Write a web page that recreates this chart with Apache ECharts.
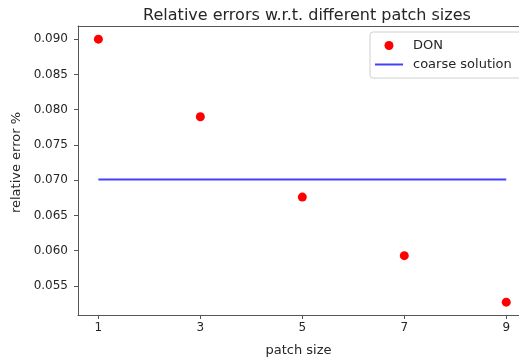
<!DOCTYPE html>
<html>
<head>
<meta charset="utf-8">
<script src="https://cdn.jsdelivr.net/npm/echarts@6/dist/echarts.min.js"></script>
<style>
  html, body { margin: 0; padding: 0; background: #fff; }
  #chart { width: 519px; height: 362px; }
</style>
</head>
<body>
<div id="chart"></div>
<script>
// data
var patchSizes = [1, 3, 5, 7, 9];
var donErrors = [0.0900, 0.0790, 0.0676, 0.0593, 0.0527];
var coarseError = 0.0701;
var xTicks = [1, 3, 5, 7, 9];
var yTicks = [0.055, 0.060, 0.065, 0.070, 0.075, 0.080, 0.085, 0.090];

var axisColor = '#555';
var textColor = '#262626';
var font = 'DejaVu Sans';

var chart = echarts.init(document.getElementById('chart'));

var donData = patchSizes.map(function (x, i) { return [x, donErrors[i]]; });
var coarseData = [[patchSizes[0], coarseError], [patchSizes[patchSizes.length - 1], coarseError]];

chart.setOption({
  animation: false,
  textStyle: { fontFamily: font },
  title: {
    text: 'Relative errors w.r.t. different patch sizes',
    left: 302,
    textAlign: 'center',
    top: 3,
    textStyle: { fontSize: 16, fontWeight: 'normal', color: textColor, fontFamily: font }
  },
  legend: {
    orient: 'vertical',
    left: 370,
    top: 32,
    padding: [7, 14, 7, 4],
    itemGap: 6,
    itemWidth: 28,
    itemHeight: 9,
    backgroundColor: '#fff',
    borderColor: '#d0d0d0',
    borderWidth: 1,
    borderRadius: 3,
    textStyle: { fontSize: 13, color: textColor, fontFamily: font, padding: [0, 0, 0, 5] },
    data: [
      { name: 'DON' },
      { name: 'coarse solution', itemStyle: { opacity: 0 } }
    ]
  },
  grid: { left: 78, right: 0, top: 26, bottom: 44.5 },
  xAxis: [{
    type: 'value',
    min: 0.6,
    max: 9.25,
    name: 'patch size',
    nameLocation: 'middle',
    nameGap: 29,
    nameTextStyle: { fontSize: 13, color: textColor },
    axisLine: { show: true, onZero: false, lineStyle: { color: axisColor, width: 1 } },
    axisTick: { show: true, length: 4, customValues: xTicks, lineStyle: { color: axisColor } },
    axisLabel: { customValues: xTicks, fontSize: 12, color: textColor, margin: 7 },
    splitLine: { show: false }
  }, {
    type: 'value',
    position: 'top',
    min: 0.6,
    max: 9.25,
    axisLine: { show: true, onZero: false, lineStyle: { color: axisColor, width: 1 } },
    axisTick: { show: false },
    axisLabel: { show: false },
    splitLine: { show: false }
  }],
  yAxis: {
    type: 'value',
    min: 0.05088,
    max: 0.09187,
    name: 'relative error %',
    nameLocation: 'middle',
    nameRotate: 90,
    nameGap: 55,
    nameTextStyle: { fontSize: 13, color: textColor, padding: [0, 0, 0, 16] },
    axisLine: { show: true, onZero: false, lineStyle: { color: axisColor, width: 1 } },
    axisTick: { show: true, length: 4, customValues: yTicks, lineStyle: { color: axisColor } },
    axisLabel: {
      customValues: yTicks,
      fontSize: 12,
      color: textColor,
      margin: 10,
      formatter: function (v) { return v.toFixed(3); }
    },
    splitLine: { show: false }
  },
  series: [{
    name: 'DON',
    type: 'scatter',
    data: donData,
    symbol: 'circle',
    symbolSize: 9,
    itemStyle: { color: '#ff0000', opacity: 1 },
    z: 3
  }, {
    name: 'coarse solution',
    type: 'line',
    data: coarseData,
    symbol: 'none',
    lineStyle: { color: 'rgba(0,0,255,0.75)', width: 2 },
    itemStyle: { color: 'rgba(0,0,255,0.75)' },
    z: 2
  }]
});
</script>
</body>
</html>
